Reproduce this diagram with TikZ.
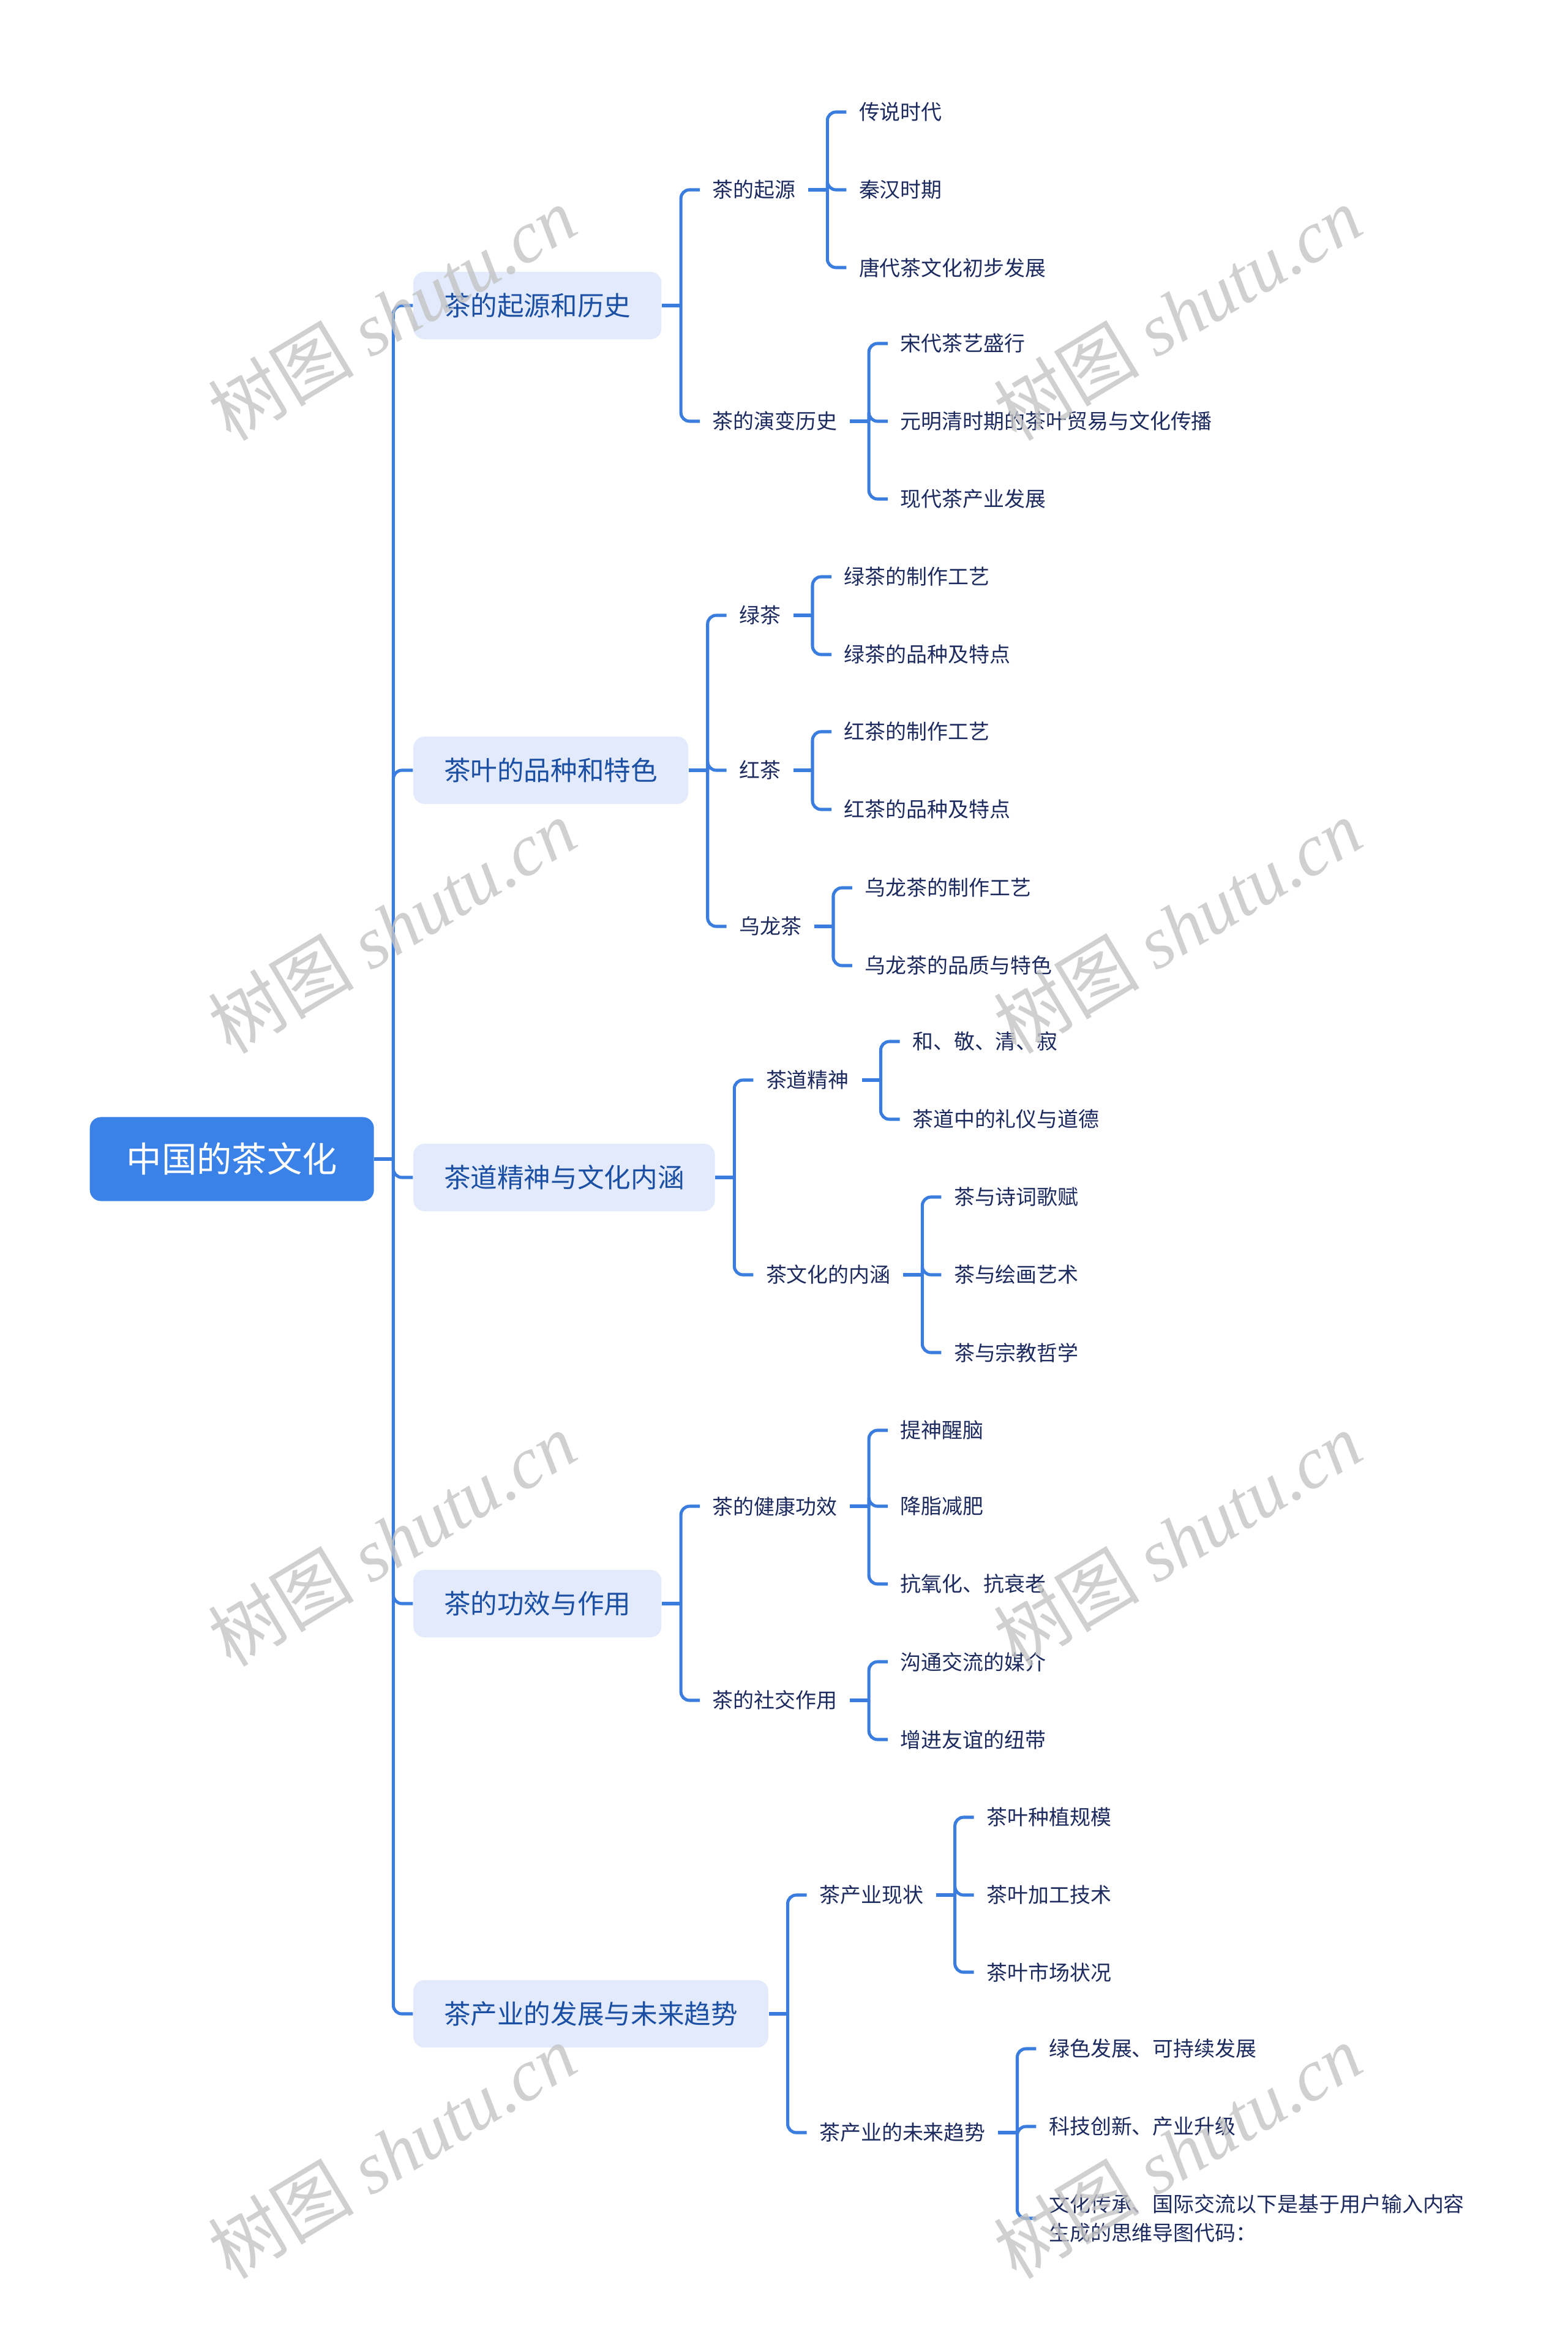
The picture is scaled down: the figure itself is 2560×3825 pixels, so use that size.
\documentclass[tikz,border=0pt]{standalone}
\usepackage{fontspec}
\setmainfont{Noto Sans CJK SC}
\newfontfamily\wmlatin{Liberation Serif}
\usepackage{tikz}
\usetikzlibrary{
  positioning,
  calc
}
\definecolor{RootBlue}{HTML}{3A82E8}
\definecolor{PaleBlue}{HTML}{E2EAFB}
\definecolor{InkBlue}{HTML}{1A4FA3}
\definecolor{NavyInk}{HTML}{1C2A5E}
\definecolor{LinkBlue}{HTML}{3A7DDE}
\definecolor{WmGray}{HTML}{C4C4C4}
\tikzset{
  % Central topic
  rootbox/.style={
    rectangle, rounded corners=0.18cm,
    fill=RootBlue, text=white,
    inner xsep=0.6cm, minimum height=1.37cm,
    font=\fontsize{16.3pt}{19pt}\selectfont
  },
  % Main branch box
  topic/.style={
    rectangle, rounded corners=0.18cm, anchor=west,
    fill=PaleBlue, text=InkBlue,
    inner xsep=0.5cm, minimum height=1.1cm,
    font=\fontsize{12.4pt}{15pt}\selectfont
  },
  % Plain sub topic
  sub/.style={
    anchor=west, text=NavyInk,
    inner xsep=0.2cm, inner ysep=0.1cm,
    font=\fontsize{9.65pt}{13.3pt}\selectfont
  },
  % Connector
  link/.style={draw=LinkBlue, line width=1.45pt, rounded corners=4pt},
  % Watermark
  wmark/.style={text=WmGray, text opacity=0.8, rotate=31, font=\fontsize{34pt}{40pt}\selectfont}
}
\begin{document}
\begin{tikzpicture}[x=0.01cm, y=-0.01cm]
  \useasboundingbox (0,0) rectangle (2560,3825);
  \node[rootbox, anchor=west] (tea) at (146,1893) {中国的茶文化};
  % main branches
  \node[topic] (orig) at ($(tea.east)+(63,-1394)$) {茶的起源和历史};
  \node[topic] (kind) at ($(tea.east)+(63,-635)$) {茶叶的品种和特色};
  \node[topic] (way)  at ($(tea.east)+(63,30)$) {茶道精神与文化内涵};
  \node[topic] (eff)  at ($(tea.east)+(63,726)$) {茶的功效与作用};
  \node[topic] (ind)  at ($(tea.east)+(63,1396)$) {茶产业的发展与未来趋势};
  % origin and history
  \node[sub] (orig1) at ($(orig.east)+(62,-189)$) {茶的起源};
  \node[sub] (orig2) at ($(orig.east)+(62,189)$) {茶的演变历史};
  \node[sub] (orig1a) at ($(orig1.east)+(62,-127)$) {传说时代};
  \node[sub] (orig1b) at ($(orig1.east)+(62,0)$) {秦汉时期};
  \node[sub] (orig1c) at ($(orig1.east)+(62,127)$) {唐代茶文化初步发展};
  \node[sub] (orig2a) at ($(orig2.east)+(62,-127)$) {宋代茶艺盛行};
  \node[sub] (orig2b) at ($(orig2.east)+(62,0)$) {元明清时期的茶叶贸易与文化传播};
  \node[sub] (orig2c) at ($(orig2.east)+(62,127)$) {现代茶产业发展};
  % kinds
  \node[sub] (kind1) at ($(kind.east)+(62,-253)$) {绿茶};
  \node[sub] (kind2) at ($(kind.east)+(62,0)$) {红茶};
  \node[sub] (kind3) at ($(kind.east)+(62,255)$) {乌龙茶};
  \node[sub] (kind1a) at ($(kind1.east)+(62,-63)$) {绿茶的制作工艺};
  \node[sub] (kind1b) at ($(kind1.east)+(62,64)$) {绿茶的品种及特点};
  \node[sub] (kind2a) at ($(kind2.east)+(62,-63)$) {红茶的制作工艺};
  \node[sub] (kind2b) at ($(kind2.east)+(62,64)$) {红茶的品种及特点};
  \node[sub] (kind3a) at ($(kind3.east)+(62,-63)$) {乌龙茶的制作工艺};
  \node[sub] (kind3b) at ($(kind3.east)+(62,64)$) {乌龙茶的品质与特色};
  % tea way
  \node[sub] (way1) at ($(way.east)+(62,-159)$) {茶道精神};
  \node[sub] (way2) at ($(way.east)+(62,159)$) {茶文化的内涵};
  \node[sub] (way1a) at ($(way1.east)+(62,-63)$) {和、敬、清、寂};
  \node[sub] (way1b) at ($(way1.east)+(62,64)$) {茶道中的礼仪与道德};
  \node[sub] (way2a) at ($(way2.east)+(62,-127)$) {茶与诗词歌赋};
  \node[sub] (way2b) at ($(way2.east)+(62,0)$) {茶与绘画艺术};
  \node[sub] (way2c) at ($(way2.east)+(62,127)$) {茶与宗教哲学};
  % effects
  \node[sub] (eff1) at ($(eff.east)+(62,-159)$) {茶的健康功效};
  \node[sub] (eff2) at ($(eff.east)+(62,158)$) {茶的社交作用};
  \node[sub] (eff1a) at ($(eff1.east)+(62,-124)$) {提神醒脑};
  \node[sub] (eff1b) at ($(eff1.east)+(62,0)$) {降脂减肥};
  \node[sub] (eff1c) at ($(eff1.east)+(62,127)$) {抗氧化、抗衰老};
  \node[sub] (eff2a) at ($(eff2.east)+(62,-63)$) {沟通交流的媒介};
  \node[sub] (eff2b) at ($(eff2.east)+(62,64)$) {增进友谊的纽带};
  % industry
  \node[sub] (ind1) at ($(ind.east)+(62,-194)$) {茶产业现状};
  \node[sub] (ind2) at ($(ind.east)+(62,194)$) {茶产业的未来趋势};
  \node[sub] (ind1a) at ($(ind1.east)+(62,-127)$) {茶叶种植规模};
  \node[sub] (ind1b) at ($(ind1.east)+(62,0)$) {茶叶加工技术};
  \node[sub] (ind1c) at ($(ind1.east)+(62,126)$) {茶叶市场状况};
  \node[sub] (ind2a) at ($(ind2.east)+(62,-137)$) {绿色发展、可持续发展};
  \node[sub] (ind2b) at ($(ind2.east)+(62,-10)$) {科技创新、产业升级};
  \node[sub, align=left] (ind2c) at ($(ind2.east)+(62,140)$) {文化传承、国际交流以下是基于用户输入内容\\生成的思维导图代码：};
  % connectors
  \foreach \p/\cs in {tea/{orig,kind,way,eff,ind}, orig/{orig1,orig2}, kind/{kind1,kind2,kind3},
      way/{way1,way2}, eff/{eff1,eff2}, ind/{ind1,ind2},
      orig1/{orig1a,orig1b,orig1c}, orig2/{orig2a,orig2b,orig2c},
      kind1/{kind1a,kind1b}, kind2/{kind2a,kind2b}, kind3/{kind3a,kind3b},
      way1/{way1a,way1b}, way2/{way2a,way2b,way2c},
      eff1/{eff1a,eff1b,eff1c}, eff2/{eff2a,eff2b},
      ind1/{ind1a,ind1b,ind1c}, ind2/{ind2a,ind2b,ind2c}} {
    \draw[link] (\p.east) -- ++(31,0);
    \foreach \c in \cs
      \draw[link] (\p.east) ++(31,0) |- (\c.west);
  }
  % watermarks
  \foreach \wx in {640,1923}
    \foreach \wy in {512,1513,2514,3514}
      \node[wmark] at (\wx,\wy) {树图 {\wmlatin\itshape shutu.cn}};
\end{tikzpicture}
\end{document}
